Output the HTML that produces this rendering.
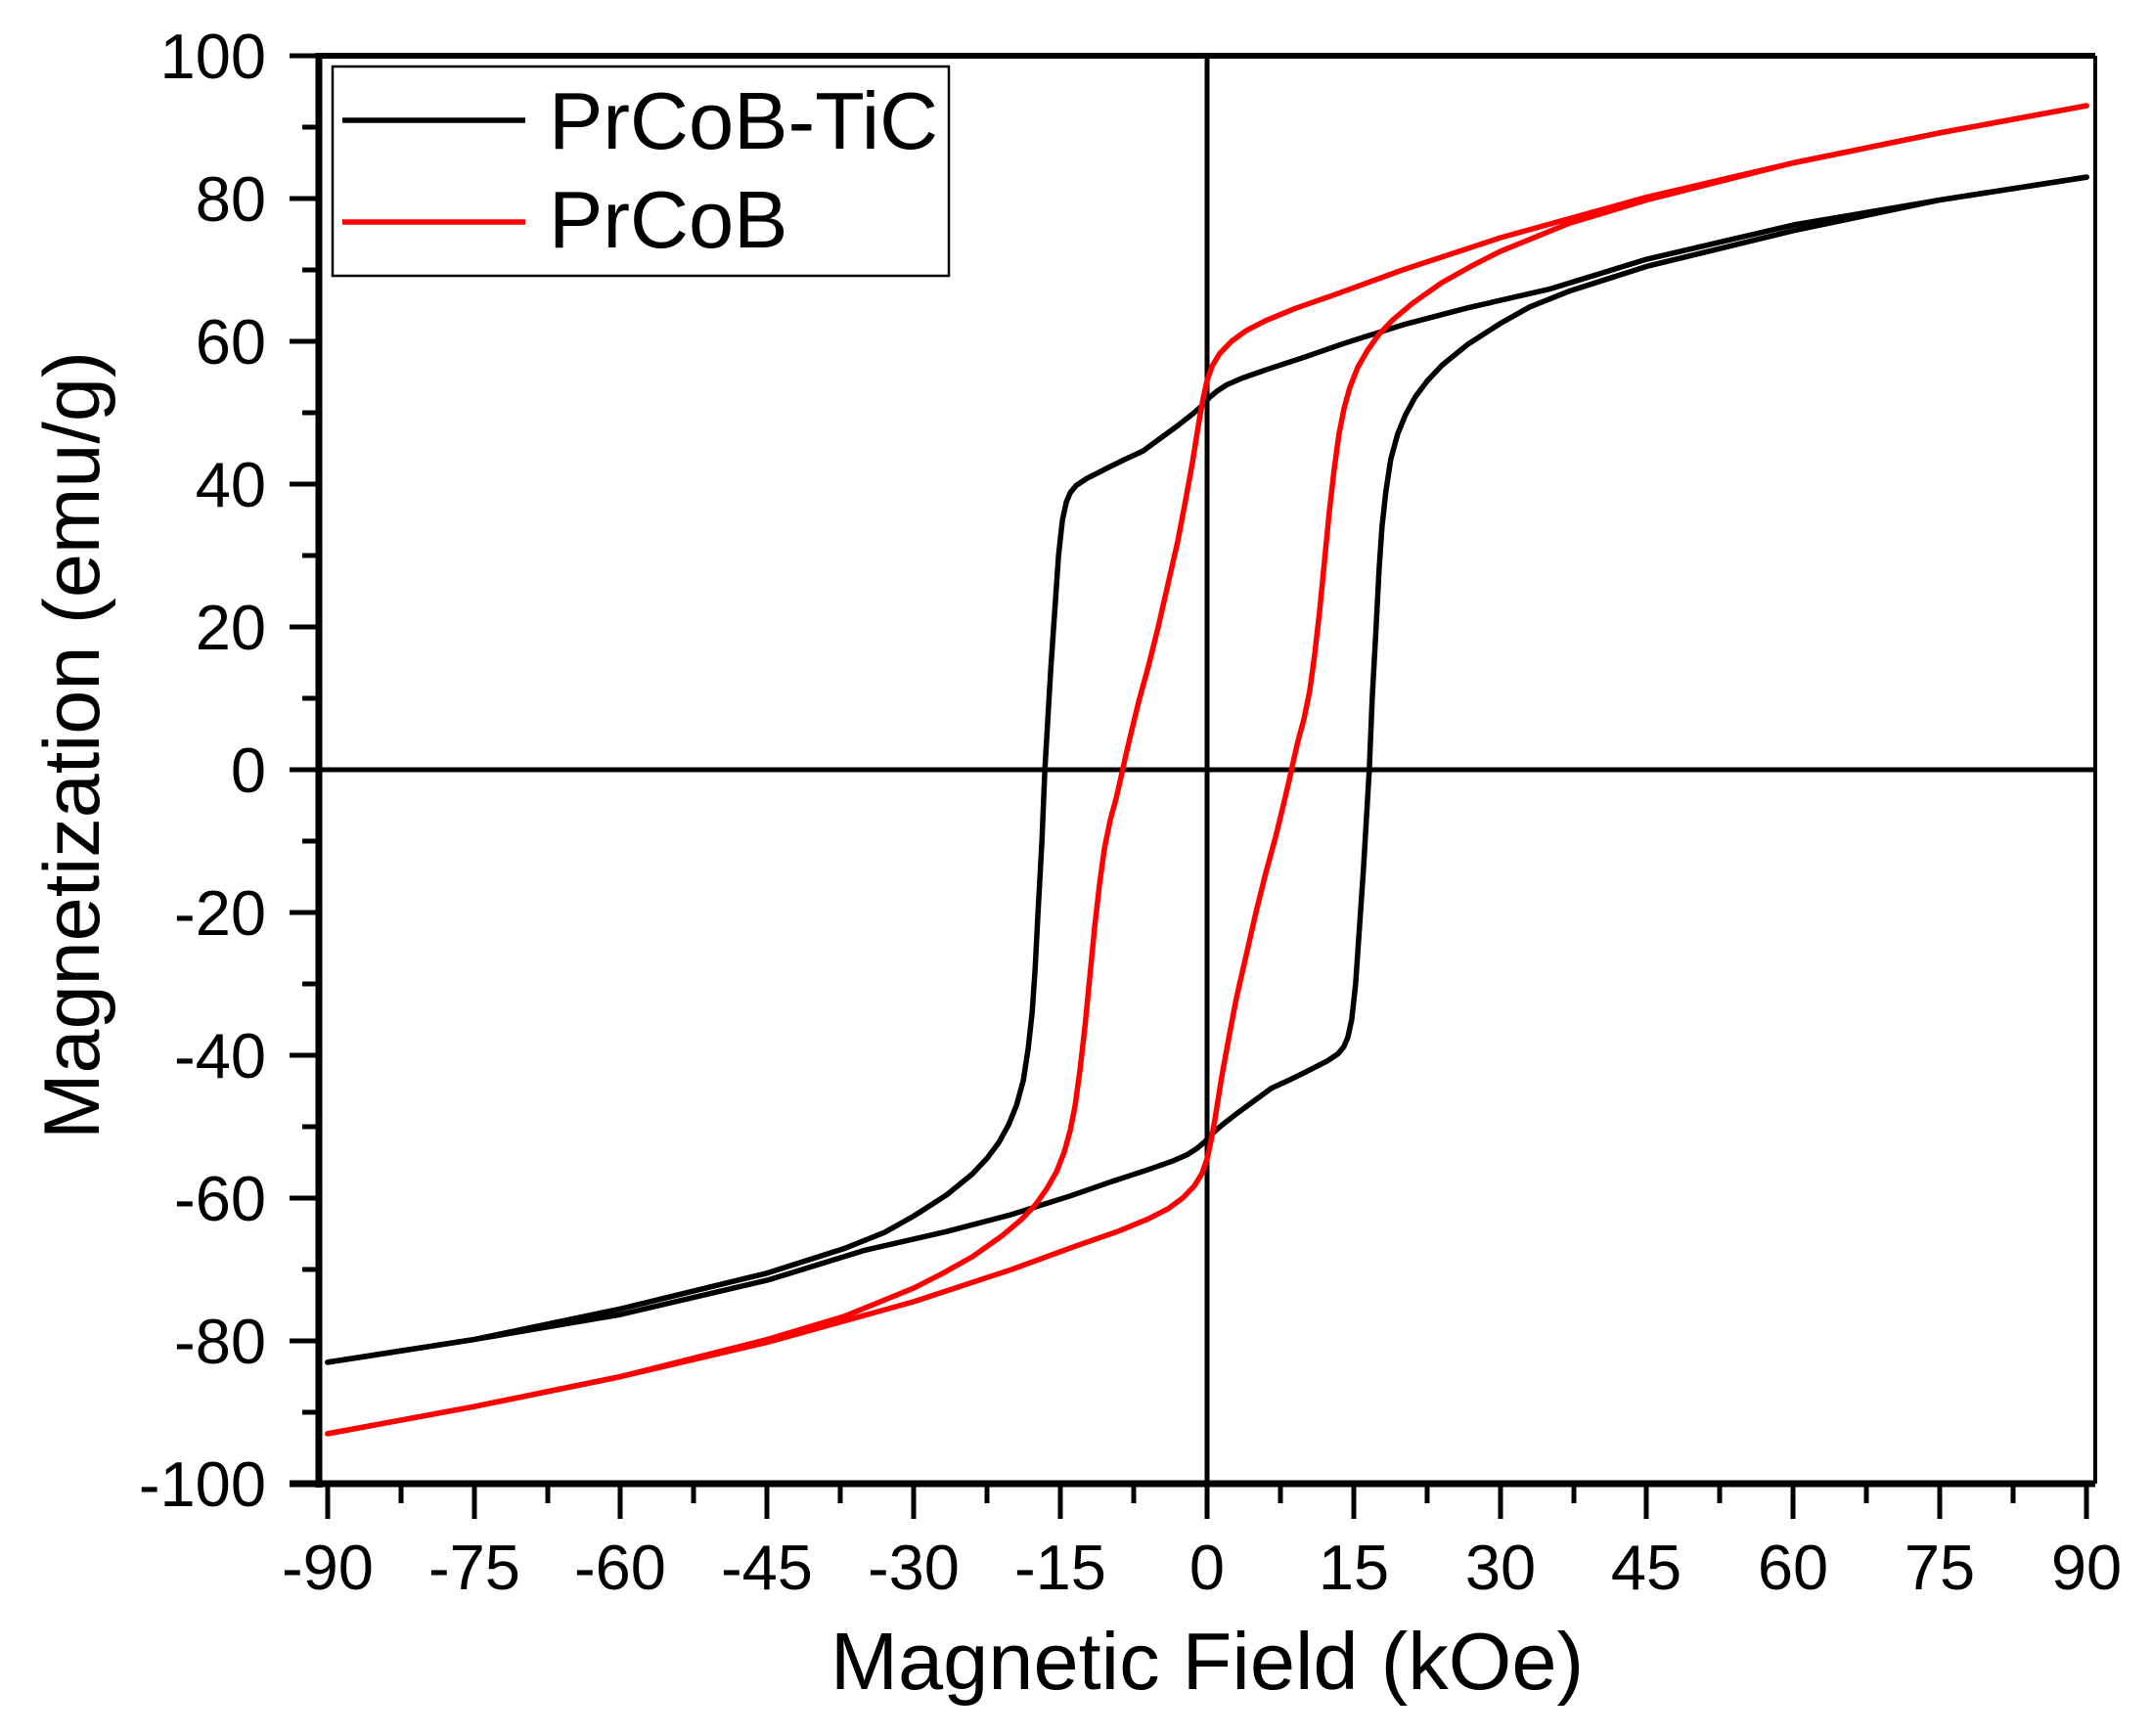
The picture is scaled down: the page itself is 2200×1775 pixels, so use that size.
<!DOCTYPE html>
<html><head><meta charset="utf-8"><style>
html,body{margin:0;padding:0;background:#fff;}
svg{display:block;}
text{font-family:"Liberation Sans",Arial,sans-serif;fill:#000;}
</style></head><body>
<svg width="2200" height="1775" viewBox="0 0 2200 1775" xmlns="http://www.w3.org/2000/svg">
<rect width="2200" height="1775" fill="#fff"/>
<line x1="326" y1="787" x2="2142" y2="787" stroke="#000" stroke-width="5"/>
<line x1="1234" y1="57" x2="1234" y2="1517" stroke="#000" stroke-width="5"/>
<line x1="326" y1="57" x2="2142" y2="57" stroke="#000" stroke-width="6"/>
<line x1="2142" y1="57" x2="2142" y2="1517" stroke="#000" stroke-width="4"/>
<line x1="326" y1="54" x2="326" y2="1521" stroke="#000" stroke-width="7"/>
<line x1="296" y1="1517" x2="2142" y2="1517" stroke="#000" stroke-width="7"/>
<g stroke="#000" stroke-width="5">
<line x1="296" y1="57" x2="326" y2="57"/><line x1="309" y1="130" x2="326" y2="130"/>
<line x1="296" y1="203" x2="326" y2="203"/><line x1="309" y1="276" x2="326" y2="276"/>
<line x1="296" y1="349" x2="326" y2="349"/><line x1="309" y1="422" x2="326" y2="422"/>
<line x1="296" y1="495" x2="326" y2="495"/><line x1="309" y1="568" x2="326" y2="568"/>
<line x1="296" y1="641" x2="326" y2="641"/><line x1="309" y1="714" x2="326" y2="714"/>
<line x1="296" y1="787" x2="326" y2="787"/><line x1="309" y1="860" x2="326" y2="860"/>
<line x1="296" y1="933" x2="326" y2="933"/><line x1="309" y1="1006" x2="326" y2="1006"/>
<line x1="296" y1="1079" x2="326" y2="1079"/><line x1="309" y1="1152" x2="326" y2="1152"/>
<line x1="296" y1="1225" x2="326" y2="1225"/><line x1="309" y1="1298" x2="326" y2="1298"/>
<line x1="296" y1="1371" x2="326" y2="1371"/><line x1="309" y1="1444" x2="326" y2="1444"/>
</g>
<g stroke="#000" stroke-width="5">
<line x1="335" y1="1517" x2="335" y2="1553"/><line x1="410" y1="1517" x2="410" y2="1537"/>
<line x1="485" y1="1517" x2="485" y2="1553"/><line x1="560" y1="1517" x2="560" y2="1537"/>
<line x1="634" y1="1517" x2="634" y2="1553"/><line x1="709" y1="1517" x2="709" y2="1537"/>
<line x1="784" y1="1517" x2="784" y2="1553"/><line x1="859" y1="1517" x2="859" y2="1537"/>
<line x1="934" y1="1517" x2="934" y2="1553"/><line x1="1009" y1="1517" x2="1009" y2="1537"/>
<line x1="1084" y1="1517" x2="1084" y2="1553"/><line x1="1159" y1="1517" x2="1159" y2="1537"/>
<line x1="1234" y1="1517" x2="1234" y2="1553"/><line x1="1309" y1="1517" x2="1309" y2="1537"/>
<line x1="1384" y1="1517" x2="1384" y2="1553"/><line x1="1459" y1="1517" x2="1459" y2="1537"/>
<line x1="1534" y1="1517" x2="1534" y2="1553"/><line x1="1609" y1="1517" x2="1609" y2="1537"/>
<line x1="1683" y1="1517" x2="1683" y2="1553"/><line x1="1758" y1="1517" x2="1758" y2="1537"/>
<line x1="1833" y1="1517" x2="1833" y2="1553"/><line x1="1908" y1="1517" x2="1908" y2="1537"/>
<line x1="1983" y1="1517" x2="1983" y2="1553"/><line x1="2058" y1="1517" x2="2058" y2="1537"/>
<line x1="2133" y1="1517" x2="2133" y2="1553"/>
</g>
<g font-size="65" text-anchor="end">
<text x="272" y="80">100</text><text x="272" y="226">80</text><text x="272" y="372">60</text>
<text x="272" y="518">40</text><text x="272" y="664">20</text><text x="272" y="810">0</text>
<text x="272" y="956">-20</text><text x="272" y="1102">-40</text><text x="272" y="1248">-60</text>
<text x="272" y="1394">-80</text><text x="272" y="1540">-100</text>
</g>
<g font-size="65" text-anchor="middle">
<text x="335" y="1625">-90</text><text x="485" y="1625">-75</text><text x="634" y="1625">-60</text>
<text x="784" y="1625">-45</text><text x="934" y="1625">-30</text><text x="1084" y="1625">-15</text>
<text x="1234" y="1625">0</text><text x="1384" y="1625">15</text><text x="1534" y="1625">30</text>
<text x="1683" y="1625">45</text><text x="1833" y="1625">60</text><text x="1983" y="1625">75</text>
<text x="2133" y="1625">90</text>
</g>
<text x="1234" y="1727" font-size="83" text-anchor="middle">Magnetic Field (kOe)</text>
<text transform="translate(101,762) rotate(-90)" font-size="81" text-anchor="middle">Magnetization (emu/g)</text>
<g transform="translate(1234,787) scale(9.99,-7.3)" fill="none" stroke-linejoin="round" stroke-linecap="round">
<polyline stroke="#000" stroke-width="5.5" vector-effect="non-scaling-stroke" points="90,83 75,79.8 60,76.3 45,71.5 35,67.3 26.7,64.7 20,62.3 14,59.7 10,57.8 6,56 3.5,54.8 2,53.9 1,53 0.3,52.2 -0.5,51 -1.5,49.8 -3,48.2 -5,46.2 -6.6,44.6 -8.5,43.4 -10,42.4 -12.3,40.8 -13.4,39.8 -14,38.8 -14.4,37.5 -14.8,35 -15.2,30 -15.6,22 -16,14 -16.3,7 -16.6,0 -16.9,-10 -17.3,-20 -17.6,-28 -17.9,-34 -18.3,-39 -18.8,-43.5 -19.5,-47 -20.3,-49.7 -21.3,-52.2 -22.5,-54.4 -24,-56.6 -26.7,-59.6 -30,-62.5 -33,-64.8 -37,-67 -45,-70.5 -60,-75.5 -75,-79.8 -90,-83"/>
<polyline stroke="#000" stroke-width="5.5" vector-effect="non-scaling-stroke" points="-90,-83 -75,-79.8 -60,-76.3 -45,-71.5 -35,-67.3 -26.7,-64.7 -20,-62.3 -14,-59.7 -10,-57.8 -6,-56 -3.5,-54.8 -2,-53.9 -1,-53 -0.3,-52.2 0.5,-51 1.5,-49.8 3,-48.2 5,-46.2 6.6,-44.6 8.5,-43.4 10,-42.4 12.3,-40.8 13.4,-39.8 14,-38.8 14.4,-37.5 14.8,-35 15.2,-30 15.6,-22 16,-14 16.3,-7 16.6,0 16.9,10 17.3,20 17.6,28 17.9,34 18.3,39 18.8,43.5 19.5,47 20.3,49.7 21.3,52.2 22.5,54.4 24,56.6 26.7,59.6 30,62.5 33,64.8 37,67 45,70.5 60,75.5 75,79.8 90,83"/>
<polyline stroke="#f00" stroke-width="5.5" vector-effect="non-scaling-stroke" points="90,93 75,89.2 60,85 45,80.2 30,74.5 20,70 13.4,66.7 9,64.6 6,62.9 4,61.5 2.5,60 1.3,58.3 0.5,56.5 0,54.5 -0.4,52 -0.8,49 -1.5,43 -2.3,37 -3,32 -4,26 -5,20 -6,14.5 -7,9.5 -7.8,5 -8.4,1.5 -8.8,-1 -9.3,-4 -9.9,-7 -10.5,-11 -11,-16 -11.5,-22 -12,-29 -12.5,-36 -13,-42 -13.5,-47 -14,-50.5 -14.6,-53.5 -15.4,-56.3 -16.4,-58.7 -17.6,-61 -19,-63 -21,-65.3 -24,-68.2 -27,-70.5 -30,-72.6 -37,-76.5 -45,-79.8 -60,-85 -75,-89.2 -90,-93"/>
<polyline stroke="#f00" stroke-width="5.5" vector-effect="non-scaling-stroke" points="-90,-93 -75,-89.2 -60,-85 -45,-80.2 -30,-74.5 -20,-70 -13.4,-66.7 -9,-64.6 -6,-62.9 -4,-61.5 -2.5,-60 -1.3,-58.3 -0.5,-56.5 0,-54.5 0.4,-52 0.8,-49 1.5,-43 2.3,-37 3,-32 4,-26 5,-20 6,-14.5 7,-9.5 7.8,-5 8.4,-1.5 8.8,1 9.3,4 9.9,7 10.5,11 11,16 11.5,22 12,29 12.5,36 13,42 13.5,47 14,50.5 14.6,53.5 15.4,56.3 16.4,58.7 17.6,61 19,63 21,65.3 24,68.2 27,70.5 30,72.6 37,76.5 45,79.8 60,85 75,89.2 90,93"/>
</g>
<rect x="340" y="68" width="630" height="214" fill="#fff" stroke="#000" stroke-width="2.5"/>
<line x1="350" y1="123" x2="537" y2="123" stroke="#000" stroke-width="5.5"/>
<line x1="350" y1="227" x2="537" y2="227" stroke="#f00" stroke-width="5.5"/>
<text x="561" y="152" font-size="83">PrCoB-TiC</text>
<text x="561" y="253" font-size="83">PrCoB</text>
</svg>
</body></html>
